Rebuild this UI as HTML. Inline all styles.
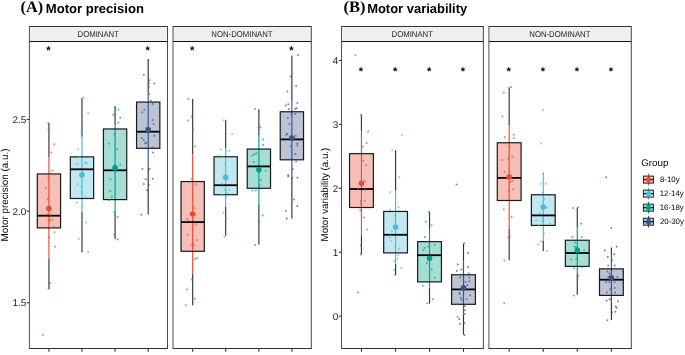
<!DOCTYPE html>
<html><head><meta charset="utf-8"><title>Motor precision and variability</title>
<style>html,body{margin:0;padding:0;background:#fff;} body{width:685px;height:355px;overflow:hidden;font-family:"Liberation Sans",sans-serif;} svg{display:block;will-change:transform;}</style>
</head><body>
<svg width="685" height="355" viewBox="0 0 685 355" text-rendering="geometricPrecision">
<rect x="0" y="0" width="685" height="355" fill="#fff"/>
<text transform="translate(20.57,12.40) scale(1.0144,1)" font-family="Liberation Serif, serif" font-weight="bold" font-size="16.00" fill="#000">(A)</text>
<text transform="translate(45.75,12.60) scale(0.9923,1)" font-family="Liberation Sans, sans-serif" font-weight="bold" font-size="13.20" fill="#000">Motor precision</text>
<text transform="translate(343.56,12.40) scale(1.0341,1)" font-family="Liberation Serif, serif" font-weight="bold" font-size="16.00" fill="#000">(B)</text>
<text transform="translate(367.16,12.60) scale(0.9824,1)" font-family="Liberation Sans, sans-serif" font-weight="bold" font-size="13.20" fill="#000">Motor variability</text>
<rect x="29.4" y="26.5" width="138.10" height="15.00" fill="#EFEFEF"/>
<rect x="29.4" y="41.5" width="138.10" height="307.00" fill="#fff"/>
<text transform="translate(77.56,36.60) scale(0.9118,1)" font-family="Liberation Sans, sans-serif" font-weight="normal" font-size="8.50" fill="#1A1A1A">DOMINANT</text>
<line x1="48.93" y1="348.5" x2="48.93" y2="351.8" stroke="#333" stroke-width="1.1"/>
<line x1="81.98" y1="348.5" x2="81.98" y2="351.8" stroke="#333" stroke-width="1.1"/>
<line x1="115.08" y1="348.5" x2="115.08" y2="351.8" stroke="#333" stroke-width="1.1"/>
<line x1="148.2" y1="348.5" x2="148.2" y2="351.8" stroke="#333" stroke-width="1.1"/>
<text x="48.48" y="53.96" text-anchor="middle" font-family="Liberation Sans, sans-serif" font-weight="bold" font-size="11.2" fill="#000">*</text>
<text x="147.75" y="53.96" text-anchor="middle" font-family="Liberation Sans, sans-serif" font-weight="bold" font-size="11.2" fill="#000">*</text>
<line x1="48.93" y1="122.9" x2="48.93" y2="157.4" stroke="#333" stroke-width="1.15"/>
<line x1="48.93" y1="258.7" x2="48.93" y2="288.9" stroke="#333" stroke-width="1.15"/>
<line x1="48.93" y1="157.4" x2="48.93" y2="258.7" stroke="#E64B35" stroke-width="1.15"/>
<rect x="37.28" y="173.95" width="23.30" height="53.95" fill="#E64B35" fill-opacity="0.35" stroke="#1A1A1A" stroke-width="1.2"/>
<line x1="37.28" y1="215.7" x2="60.58" y2="215.7" stroke="#000" stroke-width="1.8"/>
<circle cx="48.2" cy="122.9" r="1.0" fill="#E64B35" fill-opacity="0.7"/>
<circle cx="48.4" cy="129.8" r="1.0" fill="#E64B35" fill-opacity="0.7"/>
<circle cx="54.3" cy="144.2" r="1.0" fill="#E64B35" fill-opacity="0.7"/>
<circle cx="51.3" cy="152.5" r="1.0" fill="#E64B35" fill-opacity="0.7"/>
<circle cx="52.3" cy="170.8" r="1.0" fill="#E64B35" fill-opacity="0.7"/>
<circle cx="54.3" cy="174.2" r="1.0" fill="#E64B35" fill-opacity="0.7"/>
<circle cx="48.2" cy="178.1" r="1.0" fill="#E64B35" fill-opacity="0.7"/>
<circle cx="45.8" cy="188.3" r="1.0" fill="#E64B35" fill-opacity="0.7"/>
<circle cx="47.8" cy="199.3" r="1.0" fill="#E64B35" fill-opacity="0.7"/>
<circle cx="46.8" cy="214.5" r="1.0" fill="#E64B35" fill-opacity="0.7"/>
<circle cx="50.7" cy="215.1" r="1.0" fill="#E64B35" fill-opacity="0.7"/>
<circle cx="48.4" cy="219.4" r="1.0" fill="#E64B35" fill-opacity="0.7"/>
<circle cx="50.3" cy="220.4" r="1.0" fill="#E64B35" fill-opacity="0.7"/>
<circle cx="52.3" cy="219.4" r="1.0" fill="#E64B35" fill-opacity="0.7"/>
<circle cx="53.7" cy="226.7" r="1.0" fill="#E64B35" fill-opacity="0.7"/>
<circle cx="54.3" cy="232.3" r="1.0" fill="#E64B35" fill-opacity="0.7"/>
<circle cx="49.1" cy="237.2" r="1.0" fill="#E64B35" fill-opacity="0.7"/>
<circle cx="55.1" cy="246.7" r="1.0" fill="#E64B35" fill-opacity="0.7"/>
<circle cx="50.2" cy="283" r="1.0" fill="#E64B35" fill-opacity="0.7"/>
<circle cx="48.5" cy="288.7" r="1.0" fill="#E64B35" fill-opacity="0.7"/>
<circle cx="42.8" cy="335.1" r="1.0" fill="#E64B35" fill-opacity="0.7"/>
<circle cx="48.93" cy="208.6" r="2.8" fill="#E64B35"/>
<line x1="81.98" y1="97.9" x2="81.98" y2="136.5" stroke="#333" stroke-width="1.15"/>
<line x1="81.98" y1="211.8" x2="81.98" y2="252.3" stroke="#333" stroke-width="1.15"/>
<line x1="81.98" y1="136.5" x2="81.98" y2="211.8" stroke="#4DBBD5" stroke-width="1.15"/>
<rect x="70.33" y="156.85" width="23.30" height="41.65" fill="#4DBBD5" fill-opacity="0.35" stroke="#1A1A1A" stroke-width="1.2"/>
<line x1="70.33" y1="169.3" x2="93.63" y2="169.3" stroke="#000" stroke-width="1.8"/>
<circle cx="83.7" cy="97.5" r="1.0" fill="#4DBBD5" fill-opacity="0.7"/>
<circle cx="88.1" cy="112.7" r="1.0" fill="#4DBBD5" fill-opacity="0.7"/>
<circle cx="81.4" cy="131.8" r="1.0" fill="#4DBBD5" fill-opacity="0.7"/>
<circle cx="81.4" cy="136.4" r="1.0" fill="#4DBBD5" fill-opacity="0.7"/>
<circle cx="77.8" cy="149.2" r="1.0" fill="#4DBBD5" fill-opacity="0.7"/>
<circle cx="79.4" cy="157.1" r="1.0" fill="#4DBBD5" fill-opacity="0.7"/>
<circle cx="76.8" cy="163.9" r="1.0" fill="#4DBBD5" fill-opacity="0.7"/>
<circle cx="85.3" cy="162.5" r="1.0" fill="#4DBBD5" fill-opacity="0.7"/>
<circle cx="86.7" cy="163.3" r="1.0" fill="#4DBBD5" fill-opacity="0.7"/>
<circle cx="77.4" cy="184.2" r="1.0" fill="#4DBBD5" fill-opacity="0.7"/>
<circle cx="81.4" cy="186.2" r="1.0" fill="#4DBBD5" fill-opacity="0.7"/>
<circle cx="81.8" cy="192.1" r="1.0" fill="#4DBBD5" fill-opacity="0.7"/>
<circle cx="85.3" cy="197.4" r="1.0" fill="#4DBBD5" fill-opacity="0.7"/>
<circle cx="76.8" cy="202.7" r="1.0" fill="#4DBBD5" fill-opacity="0.7"/>
<circle cx="82.1" cy="206.7" r="1.0" fill="#4DBBD5" fill-opacity="0.7"/>
<circle cx="86.1" cy="222.5" r="1.0" fill="#4DBBD5" fill-opacity="0.7"/>
<circle cx="78.8" cy="239.1" r="1.0" fill="#4DBBD5" fill-opacity="0.7"/>
<circle cx="88.1" cy="252.1" r="1.0" fill="#4DBBD5" fill-opacity="0.7"/>
<circle cx="81.98" cy="174.7" r="2.8" fill="#4DBBD5"/>
<line x1="115.08" y1="106.4" x2="115.08" y2="125.1" stroke="#333" stroke-width="1.15"/>
<line x1="115.08" y1="212.3" x2="115.08" y2="239.2" stroke="#333" stroke-width="1.15"/>
<line x1="115.08" y1="125.1" x2="115.08" y2="212.3" stroke="#00A087" stroke-width="1.15"/>
<rect x="103.43" y="128.95" width="23.30" height="70.65" fill="#00A087" fill-opacity="0.35" stroke="#1A1A1A" stroke-width="1.2"/>
<line x1="103.43" y1="170.3" x2="126.73" y2="170.3" stroke="#000" stroke-width="1.8"/>
<circle cx="115.1" cy="106.9" r="1.0" fill="#00A087" fill-opacity="0.7"/>
<circle cx="118.3" cy="109.5" r="1.0" fill="#00A087" fill-opacity="0.7"/>
<circle cx="113.2" cy="114.8" r="1.0" fill="#00A087" fill-opacity="0.7"/>
<circle cx="120.3" cy="117.8" r="1.0" fill="#00A087" fill-opacity="0.7"/>
<circle cx="118.3" cy="122.7" r="1.0" fill="#00A087" fill-opacity="0.7"/>
<circle cx="114.4" cy="133.9" r="1.0" fill="#00A087" fill-opacity="0.7"/>
<circle cx="108.8" cy="143.8" r="1.0" fill="#00A087" fill-opacity="0.7"/>
<circle cx="117.1" cy="149.3" r="1.0" fill="#00A087" fill-opacity="0.7"/>
<circle cx="120.3" cy="164.7" r="1.0" fill="#00A087" fill-opacity="0.7"/>
<circle cx="110.4" cy="179.2" r="1.0" fill="#00A087" fill-opacity="0.7"/>
<circle cx="110.4" cy="191" r="1.0" fill="#00A087" fill-opacity="0.7"/>
<circle cx="111.8" cy="196.6" r="1.0" fill="#00A087" fill-opacity="0.7"/>
<circle cx="109.2" cy="200.1" r="1.0" fill="#00A087" fill-opacity="0.7"/>
<circle cx="114.4" cy="212" r="1.0" fill="#00A087" fill-opacity="0.7"/>
<circle cx="114.4" cy="234.4" r="1.0" fill="#00A087" fill-opacity="0.7"/>
<circle cx="117.7" cy="239.6" r="1.0" fill="#00A087" fill-opacity="0.7"/>
<circle cx="117.6" cy="217" r="1.0" fill="#00A087" fill-opacity="0.7"/>
<circle cx="115.08" cy="167.9" r="2.8" fill="#00A087"/>
<line x1="148.2" y1="59.5" x2="148.2" y2="92.5" stroke="#333" stroke-width="1.15"/>
<line x1="148.2" y1="167.2" x2="148.2" y2="214.4" stroke="#333" stroke-width="1.15"/>
<line x1="148.2" y1="92.5" x2="148.2" y2="167.2" stroke="#3C5488" stroke-width="1.15"/>
<rect x="136.55" y="102.05" width="23.30" height="46.25" fill="#3C5488" fill-opacity="0.35" stroke="#1A1A1A" stroke-width="1.2"/>
<line x1="136.55" y1="131.7" x2="159.85" y2="131.7" stroke="#000" stroke-width="1.8"/>
<circle cx="148.4" cy="59.9" r="1.0" fill="#3C5488" fill-opacity="0.7"/>
<circle cx="143.8" cy="74.7" r="1.0" fill="#3C5488" fill-opacity="0.7"/>
<circle cx="149.3" cy="80.2" r="1.0" fill="#3C5488" fill-opacity="0.7"/>
<circle cx="148.8" cy="83" r="1.0" fill="#3C5488" fill-opacity="0.7"/>
<circle cx="154.3" cy="83.6" r="1.0" fill="#3C5488" fill-opacity="0.7"/>
<circle cx="148.8" cy="87" r="1.0" fill="#3C5488" fill-opacity="0.7"/>
<circle cx="149.1" cy="94.1" r="1.0" fill="#3C5488" fill-opacity="0.7"/>
<circle cx="151.1" cy="100.8" r="1.0" fill="#3C5488" fill-opacity="0.7"/>
<circle cx="152.7" cy="103.9" r="1.0" fill="#3C5488" fill-opacity="0.7"/>
<circle cx="144.4" cy="109.8" r="1.0" fill="#3C5488" fill-opacity="0.7"/>
<circle cx="142.2" cy="112.2" r="1.0" fill="#3C5488" fill-opacity="0.7"/>
<circle cx="152.7" cy="120.1" r="1.0" fill="#3C5488" fill-opacity="0.7"/>
<circle cx="153.7" cy="124" r="1.0" fill="#3C5488" fill-opacity="0.7"/>
<circle cx="146.4" cy="127.9" r="1.0" fill="#3C5488" fill-opacity="0.7"/>
<circle cx="154.3" cy="135.8" r="1.0" fill="#3C5488" fill-opacity="0.7"/>
<circle cx="141.8" cy="138.1" r="1.0" fill="#3C5488" fill-opacity="0.7"/>
<circle cx="143.8" cy="140.1" r="1.0" fill="#3C5488" fill-opacity="0.7"/>
<circle cx="146.4" cy="142.7" r="1.0" fill="#3C5488" fill-opacity="0.7"/>
<circle cx="145.2" cy="143.3" r="1.0" fill="#3C5488" fill-opacity="0.7"/>
<circle cx="152.3" cy="147.6" r="1.0" fill="#3C5488" fill-opacity="0.7"/>
<circle cx="145.8" cy="148.6" r="1.0" fill="#3C5488" fill-opacity="0.7"/>
<circle cx="153.1" cy="152.5" r="1.0" fill="#3C5488" fill-opacity="0.7"/>
<circle cx="142.4" cy="168.9" r="1.0" fill="#3C5488" fill-opacity="0.7"/>
<circle cx="149.7" cy="168.9" r="1.0" fill="#3C5488" fill-opacity="0.7"/>
<circle cx="145.8" cy="179.2" r="1.0" fill="#3C5488" fill-opacity="0.7"/>
<circle cx="152.7" cy="178.8" r="1.0" fill="#3C5488" fill-opacity="0.7"/>
<circle cx="143.8" cy="184.1" r="1.0" fill="#3C5488" fill-opacity="0.7"/>
<circle cx="148.8" cy="184.7" r="1.0" fill="#3C5488" fill-opacity="0.7"/>
<circle cx="147.1" cy="190.3" r="1.0" fill="#3C5488" fill-opacity="0.7"/>
<circle cx="141.4" cy="214.8" r="1.0" fill="#3C5488" fill-opacity="0.7"/>
<circle cx="148.2" cy="129.7" r="2.8" fill="#3C5488"/>
<line x1="29.4" y1="26.5" x2="167.5" y2="26.5" stroke="#333" stroke-width="1"/>
<line x1="29.4" y1="41.5" x2="167.5" y2="41.5" stroke="#111" stroke-width="1.1"/>
<line x1="29.4" y1="348.5" x2="167.5" y2="348.5" stroke="#333" stroke-width="1"/>
<line x1="29.4" y1="26.0" x2="29.4" y2="349.0" stroke="#333" stroke-width="0.85"/>
<line x1="167.5" y1="26.0" x2="167.5" y2="349.0" stroke="#333" stroke-width="0.9"/>
<rect x="173.0" y="26.5" width="138.30" height="15.00" fill="#EFEFEF"/>
<rect x="173.0" y="41.5" width="138.30" height="307.00" fill="#fff"/>
<text transform="translate(211.36,36.60) scale(0.9118,1)" font-family="Liberation Sans, sans-serif" font-weight="normal" font-size="8.50" fill="#1A1A1A">NON-DOMINANT</text>
<line x1="192.68" y1="348.5" x2="192.68" y2="351.8" stroke="#333" stroke-width="1.1"/>
<line x1="225.68" y1="348.5" x2="225.68" y2="351.8" stroke="#333" stroke-width="1.1"/>
<line x1="258.88" y1="348.5" x2="258.88" y2="351.8" stroke="#333" stroke-width="1.1"/>
<line x1="291.88" y1="348.5" x2="291.88" y2="351.8" stroke="#333" stroke-width="1.1"/>
<text x="192.23" y="53.96" text-anchor="middle" font-family="Liberation Sans, sans-serif" font-weight="bold" font-size="11.2" fill="#000">*</text>
<text x="291.43" y="53.96" text-anchor="middle" font-family="Liberation Sans, sans-serif" font-weight="bold" font-size="11.2" fill="#000">*</text>
<line x1="192.68" y1="99.1" x2="192.68" y2="154.3" stroke="#333" stroke-width="1.15"/>
<line x1="192.68" y1="273.8" x2="192.68" y2="305.2" stroke="#333" stroke-width="1.15"/>
<line x1="192.68" y1="154.3" x2="192.68" y2="273.8" stroke="#E64B35" stroke-width="1.15"/>
<rect x="181.03" y="181.55" width="23.30" height="69.75" fill="#E64B35" fill-opacity="0.35" stroke="#1A1A1A" stroke-width="1.2"/>
<line x1="181.03" y1="222.1" x2="204.33" y2="222.1" stroke="#000" stroke-width="1.8"/>
<circle cx="188.4" cy="98.9" r="1.0" fill="#E64B35" fill-opacity="0.7"/>
<circle cx="191.8" cy="116.6" r="1.0" fill="#E64B35" fill-opacity="0.7"/>
<circle cx="187.8" cy="120.6" r="1.0" fill="#E64B35" fill-opacity="0.7"/>
<circle cx="193.1" cy="129.8" r="1.0" fill="#E64B35" fill-opacity="0.7"/>
<circle cx="195.1" cy="146.2" r="1.0" fill="#E64B35" fill-opacity="0.7"/>
<circle cx="191.8" cy="179.1" r="1.0" fill="#E64B35" fill-opacity="0.7"/>
<circle cx="196.3" cy="184.2" r="1.0" fill="#E64B35" fill-opacity="0.7"/>
<circle cx="192.8" cy="199.4" r="1.0" fill="#E64B35" fill-opacity="0.7"/>
<circle cx="194.3" cy="207.9" r="1.0" fill="#E64B35" fill-opacity="0.7"/>
<circle cx="187.2" cy="218.5" r="1.0" fill="#E64B35" fill-opacity="0.7"/>
<circle cx="185.8" cy="221.1" r="1.0" fill="#E64B35" fill-opacity="0.7"/>
<circle cx="188.4" cy="220.8" r="1.0" fill="#E64B35" fill-opacity="0.7"/>
<circle cx="196.3" cy="224.3" r="1.0" fill="#E64B35" fill-opacity="0.7"/>
<circle cx="187.8" cy="234.8" r="1.0" fill="#E64B35" fill-opacity="0.7"/>
<circle cx="197.1" cy="240.1" r="1.0" fill="#E64B35" fill-opacity="0.7"/>
<circle cx="191.8" cy="244.7" r="1.0" fill="#E64B35" fill-opacity="0.7"/>
<circle cx="193.7" cy="245.2" r="1.0" fill="#E64B35" fill-opacity="0.7"/>
<circle cx="195.1" cy="259.1" r="1.0" fill="#E64B35" fill-opacity="0.7"/>
<circle cx="197.1" cy="257.9" r="1.0" fill="#E64B35" fill-opacity="0.7"/>
<circle cx="191.8" cy="279.6" r="1.0" fill="#E64B35" fill-opacity="0.7"/>
<circle cx="187.2" cy="289.6" r="1.0" fill="#E64B35" fill-opacity="0.7"/>
<circle cx="194.7" cy="298.7" r="1.0" fill="#E64B35" fill-opacity="0.7"/>
<circle cx="185.8" cy="305.2" r="1.0" fill="#E64B35" fill-opacity="0.7"/>
<circle cx="192.68" cy="214.0" r="2.8" fill="#E64B35"/>
<line x1="225.68" y1="120.3" x2="225.68" y2="148.4" stroke="#333" stroke-width="1.15"/>
<line x1="225.68" y1="206.4" x2="225.68" y2="235.8" stroke="#333" stroke-width="1.15"/>
<line x1="225.68" y1="148.4" x2="225.68" y2="206.4" stroke="#4DBBD5" stroke-width="1.15"/>
<rect x="214.03" y="156.75" width="23.30" height="37.95" fill="#4DBBD5" fill-opacity="0.35" stroke="#1A1A1A" stroke-width="1.2"/>
<line x1="214.03" y1="185.2" x2="237.33" y2="185.2" stroke="#000" stroke-width="1.8"/>
<circle cx="223.8" cy="120.3" r="1.0" fill="#4DBBD5" fill-opacity="0.7"/>
<circle cx="232.1" cy="134.1" r="1.0" fill="#4DBBD5" fill-opacity="0.7"/>
<circle cx="220.8" cy="149.4" r="1.0" fill="#4DBBD5" fill-opacity="0.7"/>
<circle cx="226.1" cy="150.4" r="1.0" fill="#4DBBD5" fill-opacity="0.7"/>
<circle cx="229.3" cy="151" r="1.0" fill="#4DBBD5" fill-opacity="0.7"/>
<circle cx="218.8" cy="155.8" r="1.0" fill="#4DBBD5" fill-opacity="0.7"/>
<circle cx="222.2" cy="157.3" r="1.0" fill="#4DBBD5" fill-opacity="0.7"/>
<circle cx="224.8" cy="164.8" r="1.0" fill="#4DBBD5" fill-opacity="0.7"/>
<circle cx="222.2" cy="183.8" r="1.0" fill="#4DBBD5" fill-opacity="0.7"/>
<circle cx="225.4" cy="189.7" r="1.0" fill="#4DBBD5" fill-opacity="0.7"/>
<circle cx="229.3" cy="189.7" r="1.0" fill="#4DBBD5" fill-opacity="0.7"/>
<circle cx="227.3" cy="193.3" r="1.0" fill="#4DBBD5" fill-opacity="0.7"/>
<circle cx="221.8" cy="194.7" r="1.0" fill="#4DBBD5" fill-opacity="0.7"/>
<circle cx="226.1" cy="196.6" r="1.0" fill="#4DBBD5" fill-opacity="0.7"/>
<circle cx="223.4" cy="212.4" r="1.0" fill="#4DBBD5" fill-opacity="0.7"/>
<circle cx="226.1" cy="218.3" r="1.0" fill="#4DBBD5" fill-opacity="0.7"/>
<circle cx="224.2" cy="236.7" r="1.0" fill="#4DBBD5" fill-opacity="0.7"/>
<circle cx="225.68" cy="177.4" r="2.8" fill="#4DBBD5"/>
<line x1="258.88" y1="109.3" x2="258.88" y2="135.1" stroke="#333" stroke-width="1.15"/>
<line x1="258.88" y1="204.2" x2="258.88" y2="244.4" stroke="#333" stroke-width="1.15"/>
<line x1="258.88" y1="135.1" x2="258.88" y2="204.2" stroke="#00A087" stroke-width="1.15"/>
<rect x="247.23" y="149.05" width="23.30" height="39.25" fill="#00A087" fill-opacity="0.35" stroke="#1A1A1A" stroke-width="1.2"/>
<line x1="247.23" y1="166.4" x2="270.53" y2="166.4" stroke="#000" stroke-width="1.8"/>
<circle cx="255.2" cy="108.9" r="1.0" fill="#00A087" fill-opacity="0.7"/>
<circle cx="258.4" cy="127.2" r="1.0" fill="#00A087" fill-opacity="0.7"/>
<circle cx="260.3" cy="127.2" r="1.0" fill="#00A087" fill-opacity="0.7"/>
<circle cx="263.1" cy="139.4" r="1.0" fill="#00A087" fill-opacity="0.7"/>
<circle cx="263.1" cy="145" r="1.0" fill="#00A087" fill-opacity="0.7"/>
<circle cx="252.4" cy="155.6" r="1.0" fill="#00A087" fill-opacity="0.7"/>
<circle cx="254.4" cy="154.2" r="1.0" fill="#00A087" fill-opacity="0.7"/>
<circle cx="256.4" cy="153.3" r="1.0" fill="#00A087" fill-opacity="0.7"/>
<circle cx="253.8" cy="162.1" r="1.0" fill="#00A087" fill-opacity="0.7"/>
<circle cx="265.7" cy="170.8" r="1.0" fill="#00A087" fill-opacity="0.7"/>
<circle cx="260.7" cy="179.7" r="1.0" fill="#00A087" fill-opacity="0.7"/>
<circle cx="259.7" cy="185.6" r="1.0" fill="#00A087" fill-opacity="0.7"/>
<circle cx="252.4" cy="190.6" r="1.0" fill="#00A087" fill-opacity="0.7"/>
<circle cx="255.8" cy="190.6" r="1.0" fill="#00A087" fill-opacity="0.7"/>
<circle cx="262.7" cy="215.6" r="1.0" fill="#00A087" fill-opacity="0.7"/>
<circle cx="259.1" cy="221.5" r="1.0" fill="#00A087" fill-opacity="0.7"/>
<circle cx="255.2" cy="245" r="1.0" fill="#00A087" fill-opacity="0.7"/>
<circle cx="258.88" cy="169.7" r="2.8" fill="#00A087"/>
<line x1="291.88" y1="55.4" x2="291.88" y2="100.0" stroke="#333" stroke-width="1.15"/>
<line x1="291.88" y1="176.8" x2="291.88" y2="218.6" stroke="#333" stroke-width="1.15"/>
<line x1="291.88" y1="100.0" x2="291.88" y2="176.8" stroke="#3C5488" stroke-width="1.15"/>
<rect x="280.23" y="111.75" width="23.30" height="48.05" fill="#3C5488" fill-opacity="0.35" stroke="#1A1A1A" stroke-width="1.2"/>
<line x1="280.23" y1="139.4" x2="303.53" y2="139.4" stroke="#000" stroke-width="1.8"/>
<circle cx="298.1" cy="54.9" r="1.0" fill="#3C5488" fill-opacity="0.7"/>
<circle cx="290.8" cy="76.6" r="1.0" fill="#3C5488" fill-opacity="0.7"/>
<circle cx="296.1" cy="85.9" r="1.0" fill="#3C5488" fill-opacity="0.7"/>
<circle cx="287.4" cy="91.4" r="1.0" fill="#3C5488" fill-opacity="0.7"/>
<circle cx="297.3" cy="102.9" r="1.0" fill="#3C5488" fill-opacity="0.7"/>
<circle cx="285.8" cy="105.6" r="1.0" fill="#3C5488" fill-opacity="0.7"/>
<circle cx="288.2" cy="104.2" r="1.0" fill="#3C5488" fill-opacity="0.7"/>
<circle cx="288.8" cy="109.2" r="1.0" fill="#3C5488" fill-opacity="0.7"/>
<circle cx="295.3" cy="108.8" r="1.0" fill="#3C5488" fill-opacity="0.7"/>
<circle cx="296.7" cy="108.2" r="1.0" fill="#3C5488" fill-opacity="0.7"/>
<circle cx="291.4" cy="114.1" r="1.0" fill="#3C5488" fill-opacity="0.7"/>
<circle cx="295.3" cy="114.1" r="1.0" fill="#3C5488" fill-opacity="0.7"/>
<circle cx="287.8" cy="118" r="1.0" fill="#3C5488" fill-opacity="0.7"/>
<circle cx="289.4" cy="123.9" r="1.0" fill="#3C5488" fill-opacity="0.7"/>
<circle cx="287.4" cy="133.7" r="1.0" fill="#3C5488" fill-opacity="0.7"/>
<circle cx="286.2" cy="134.7" r="1.0" fill="#3C5488" fill-opacity="0.7"/>
<circle cx="295.7" cy="135.7" r="1.0" fill="#3C5488" fill-opacity="0.7"/>
<circle cx="290.8" cy="146.2" r="1.0" fill="#3C5488" fill-opacity="0.7"/>
<circle cx="297.3" cy="143.6" r="1.0" fill="#3C5488" fill-opacity="0.7"/>
<circle cx="297.3" cy="145.6" r="1.0" fill="#3C5488" fill-opacity="0.7"/>
<circle cx="295.3" cy="154.1" r="1.0" fill="#3C5488" fill-opacity="0.7"/>
<circle cx="291.8" cy="158.8" r="1.0" fill="#3C5488" fill-opacity="0.7"/>
<circle cx="296.1" cy="161.4" r="1.0" fill="#3C5488" fill-opacity="0.7"/>
<circle cx="292.7" cy="169.2" r="1.0" fill="#3C5488" fill-opacity="0.7"/>
<circle cx="288.2" cy="175.2" r="1.0" fill="#3C5488" fill-opacity="0.7"/>
<circle cx="288.2" cy="176.5" r="1.0" fill="#3C5488" fill-opacity="0.7"/>
<circle cx="292.1" cy="177.7" r="1.0" fill="#3C5488" fill-opacity="0.7"/>
<circle cx="297.3" cy="177.7" r="1.0" fill="#3C5488" fill-opacity="0.7"/>
<circle cx="294.1" cy="199.4" r="1.0" fill="#3C5488" fill-opacity="0.7"/>
<circle cx="297.2" cy="206" r="1.0" fill="#3C5488" fill-opacity="0.7"/>
<circle cx="285.8" cy="210.9" r="1.0" fill="#3C5488" fill-opacity="0.7"/>
<circle cx="286.8" cy="218.6" r="1.0" fill="#3C5488" fill-opacity="0.7"/>
<circle cx="291.88" cy="138.1" r="2.8" fill="#3C5488"/>
<line x1="173.0" y1="26.5" x2="311.3" y2="26.5" stroke="#333" stroke-width="1"/>
<line x1="173.0" y1="41.5" x2="311.3" y2="41.5" stroke="#111" stroke-width="1.1"/>
<line x1="173.0" y1="348.5" x2="311.3" y2="348.5" stroke="#333" stroke-width="1"/>
<line x1="173.0" y1="26.0" x2="173.0" y2="349.0" stroke="#333" stroke-width="0.85"/>
<line x1="311.3" y1="26.0" x2="311.3" y2="349.0" stroke="#333" stroke-width="0.9"/>
<rect x="341.5" y="26.5" width="141.90" height="15.00" fill="#EFEFEF"/>
<rect x="341.5" y="41.5" width="141.90" height="307.00" fill="#fff"/>
<text transform="translate(391.56,36.60) scale(0.9118,1)" font-family="Liberation Sans, sans-serif" font-weight="normal" font-size="8.50" fill="#1A1A1A">DOMINANT</text>
<line x1="361.45" y1="348.5" x2="361.45" y2="351.8" stroke="#333" stroke-width="1.1"/>
<line x1="395.58" y1="348.5" x2="395.58" y2="351.8" stroke="#333" stroke-width="1.1"/>
<line x1="429.53" y1="348.5" x2="429.53" y2="351.8" stroke="#333" stroke-width="1.1"/>
<line x1="463.5" y1="348.5" x2="463.5" y2="351.8" stroke="#333" stroke-width="1.1"/>
<text x="361.00" y="74.76" text-anchor="middle" font-family="Liberation Sans, sans-serif" font-weight="bold" font-size="11.2" fill="#000">*</text>
<text x="395.13" y="74.76" text-anchor="middle" font-family="Liberation Sans, sans-serif" font-weight="bold" font-size="11.2" fill="#000">*</text>
<text x="429.08" y="74.76" text-anchor="middle" font-family="Liberation Sans, sans-serif" font-weight="bold" font-size="11.2" fill="#000">*</text>
<text x="463.05" y="74.76" text-anchor="middle" font-family="Liberation Sans, sans-serif" font-weight="bold" font-size="11.2" fill="#000">*</text>
<line x1="361.45" y1="114.8" x2="361.45" y2="131.4" stroke="#333" stroke-width="1.15"/>
<line x1="361.45" y1="235.4" x2="361.45" y2="254.4" stroke="#333" stroke-width="1.15"/>
<line x1="361.45" y1="131.4" x2="361.45" y2="235.4" stroke="#E64B35" stroke-width="1.15"/>
<rect x="349.55" y="153.65" width="23.80" height="53.85" fill="#E64B35" fill-opacity="0.35" stroke="#1A1A1A" stroke-width="1.2"/>
<line x1="349.55" y1="189.0" x2="373.35" y2="189.0" stroke="#000" stroke-width="1.8"/>
<circle cx="355.4" cy="55.2" r="1.0" fill="#E64B35" fill-opacity="0.7"/>
<circle cx="360.8" cy="114.8" r="1.0" fill="#E64B35" fill-opacity="0.7"/>
<circle cx="368.1" cy="131.6" r="1.0" fill="#E64B35" fill-opacity="0.7"/>
<circle cx="366.7" cy="143" r="1.0" fill="#E64B35" fill-opacity="0.7"/>
<circle cx="362.7" cy="146.4" r="1.0" fill="#E64B35" fill-opacity="0.7"/>
<circle cx="363.3" cy="160.7" r="1.0" fill="#E64B35" fill-opacity="0.7"/>
<circle cx="366.1" cy="165.3" r="1.0" fill="#E64B35" fill-opacity="0.7"/>
<circle cx="364.7" cy="181.3" r="1.0" fill="#E64B35" fill-opacity="0.7"/>
<circle cx="358.2" cy="188.6" r="1.0" fill="#E64B35" fill-opacity="0.7"/>
<circle cx="365.3" cy="190" r="1.0" fill="#E64B35" fill-opacity="0.7"/>
<circle cx="360.8" cy="201" r="1.0" fill="#E64B35" fill-opacity="0.7"/>
<circle cx="364.7" cy="201" r="1.0" fill="#E64B35" fill-opacity="0.7"/>
<circle cx="360.8" cy="203.8" r="1.0" fill="#E64B35" fill-opacity="0.7"/>
<circle cx="360.2" cy="210.3" r="1.0" fill="#E64B35" fill-opacity="0.7"/>
<circle cx="364.1" cy="217.6" r="1.0" fill="#E64B35" fill-opacity="0.7"/>
<circle cx="367.3" cy="229.5" r="1.0" fill="#E64B35" fill-opacity="0.7"/>
<circle cx="360.8" cy="245.6" r="1.0" fill="#E64B35" fill-opacity="0.7"/>
<circle cx="360.8" cy="254.5" r="1.0" fill="#E64B35" fill-opacity="0.7"/>
<circle cx="358" cy="292.5" r="1.0" fill="#E64B35" fill-opacity="0.7"/>
<circle cx="361.45" cy="183.3" r="2.8" fill="#E64B35"/>
<line x1="395.58" y1="150.3" x2="395.58" y2="190.8" stroke="#333" stroke-width="1.15"/>
<line x1="395.58" y1="263.7" x2="395.58" y2="275.1" stroke="#333" stroke-width="1.15"/>
<line x1="395.58" y1="190.8" x2="395.58" y2="263.7" stroke="#4DBBD5" stroke-width="1.15"/>
<rect x="383.68" y="211.45" width="23.80" height="41.45" fill="#4DBBD5" fill-opacity="0.35" stroke="#1A1A1A" stroke-width="1.2"/>
<line x1="383.68" y1="234.8" x2="407.48" y2="234.8" stroke="#000" stroke-width="1.8"/>
<circle cx="402.1" cy="134.9" r="1.0" fill="#4DBBD5" fill-opacity="0.7"/>
<circle cx="392.2" cy="150.3" r="1.0" fill="#4DBBD5" fill-opacity="0.7"/>
<circle cx="399.3" cy="176.9" r="1.0" fill="#4DBBD5" fill-opacity="0.7"/>
<circle cx="390.2" cy="192.1" r="1.0" fill="#4DBBD5" fill-opacity="0.7"/>
<circle cx="398.7" cy="207.2" r="1.0" fill="#4DBBD5" fill-opacity="0.7"/>
<circle cx="390.2" cy="209.8" r="1.0" fill="#4DBBD5" fill-opacity="0.7"/>
<circle cx="394.8" cy="215.7" r="1.0" fill="#4DBBD5" fill-opacity="0.7"/>
<circle cx="391.8" cy="231.5" r="1.0" fill="#4DBBD5" fill-opacity="0.7"/>
<circle cx="390.2" cy="235.4" r="1.0" fill="#4DBBD5" fill-opacity="0.7"/>
<circle cx="389.8" cy="237.4" r="1.0" fill="#4DBBD5" fill-opacity="0.7"/>
<circle cx="391.4" cy="240.8" r="1.0" fill="#4DBBD5" fill-opacity="0.7"/>
<circle cx="395.4" cy="246.7" r="1.0" fill="#4DBBD5" fill-opacity="0.7"/>
<circle cx="399.3" cy="248.6" r="1.0" fill="#4DBBD5" fill-opacity="0.7"/>
<circle cx="398.4" cy="255.6" r="1.0" fill="#4DBBD5" fill-opacity="0.7"/>
<circle cx="397.3" cy="258.7" r="1.0" fill="#4DBBD5" fill-opacity="0.7"/>
<circle cx="394.2" cy="261" r="1.0" fill="#4DBBD5" fill-opacity="0.7"/>
<circle cx="401.3" cy="268.1" r="1.0" fill="#4DBBD5" fill-opacity="0.7"/>
<circle cx="394.2" cy="270.1" r="1.0" fill="#4DBBD5" fill-opacity="0.7"/>
<circle cx="394.8" cy="275.2" r="1.0" fill="#4DBBD5" fill-opacity="0.7"/>
<circle cx="395.58" cy="227.1" r="2.8" fill="#4DBBD5"/>
<line x1="429.53" y1="211.7" x2="429.53" y2="228.9" stroke="#333" stroke-width="1.15"/>
<line x1="429.53" y1="287.6" x2="429.53" y2="303.6" stroke="#333" stroke-width="1.15"/>
<line x1="429.53" y1="228.9" x2="429.53" y2="287.6" stroke="#00A087" stroke-width="1.15"/>
<rect x="417.63" y="241.65" width="23.80" height="40.25" fill="#00A087" fill-opacity="0.35" stroke="#1A1A1A" stroke-width="1.2"/>
<line x1="417.63" y1="255.2" x2="441.43" y2="255.2" stroke="#000" stroke-width="1.8"/>
<circle cx="428.8" cy="211.8" r="1.0" fill="#00A087" fill-opacity="0.7"/>
<circle cx="425.8" cy="221.7" r="1.0" fill="#00A087" fill-opacity="0.7"/>
<circle cx="431.7" cy="225.2" r="1.0" fill="#00A087" fill-opacity="0.7"/>
<circle cx="424.8" cy="237.1" r="1.0" fill="#00A087" fill-opacity="0.7"/>
<circle cx="434.7" cy="245" r="1.0" fill="#00A087" fill-opacity="0.7"/>
<circle cx="424.8" cy="247.8" r="1.0" fill="#00A087" fill-opacity="0.7"/>
<circle cx="423.4" cy="250.1" r="1.0" fill="#00A087" fill-opacity="0.7"/>
<circle cx="428.2" cy="246.4" r="1.0" fill="#00A087" fill-opacity="0.7"/>
<circle cx="426.8" cy="263.1" r="1.0" fill="#00A087" fill-opacity="0.7"/>
<circle cx="431.7" cy="269.5" r="1.0" fill="#00A087" fill-opacity="0.7"/>
<circle cx="434.7" cy="277.8" r="1.0" fill="#00A087" fill-opacity="0.7"/>
<circle cx="422.8" cy="285.7" r="1.0" fill="#00A087" fill-opacity="0.7"/>
<circle cx="429.4" cy="292.7" r="1.0" fill="#00A087" fill-opacity="0.7"/>
<circle cx="432.9" cy="299.3" r="1.0" fill="#00A087" fill-opacity="0.7"/>
<circle cx="427.4" cy="303.3" r="1.0" fill="#00A087" fill-opacity="0.7"/>
<circle cx="429.53" cy="258.3" r="2.8" fill="#00A087"/>
<line x1="463.5" y1="243.8" x2="463.5" y2="261.4" stroke="#333" stroke-width="1.15"/>
<line x1="463.5" y1="314.5" x2="463.5" y2="334.6" stroke="#333" stroke-width="1.15"/>
<line x1="463.5" y1="261.4" x2="463.5" y2="314.5" stroke="#3C5488" stroke-width="1.15"/>
<rect x="451.60" y="274.75" width="23.80" height="29.55" fill="#3C5488" fill-opacity="0.35" stroke="#1A1A1A" stroke-width="1.2"/>
<line x1="451.60" y1="289.4" x2="475.40" y2="289.4" stroke="#000" stroke-width="1.8"/>
<circle cx="464.1" cy="243.3" r="1.0" fill="#3C5488" fill-opacity="0.7"/>
<circle cx="468.1" cy="253.1" r="1.0" fill="#3C5488" fill-opacity="0.7"/>
<circle cx="457.8" cy="264.6" r="1.0" fill="#3C5488" fill-opacity="0.7"/>
<circle cx="468.1" cy="267" r="1.0" fill="#3C5488" fill-opacity="0.7"/>
<circle cx="461.4" cy="269.5" r="1.0" fill="#3C5488" fill-opacity="0.7"/>
<circle cx="456.8" cy="270.9" r="1.0" fill="#3C5488" fill-opacity="0.7"/>
<circle cx="468.7" cy="273.5" r="1.0" fill="#3C5488" fill-opacity="0.7"/>
<circle cx="460.2" cy="277.4" r="1.0" fill="#3C5488" fill-opacity="0.7"/>
<circle cx="469.3" cy="277.4" r="1.0" fill="#3C5488" fill-opacity="0.7"/>
<circle cx="465.7" cy="281.9" r="1.0" fill="#3C5488" fill-opacity="0.7"/>
<circle cx="469.3" cy="281.4" r="1.0" fill="#3C5488" fill-opacity="0.7"/>
<circle cx="467.3" cy="285.3" r="1.0" fill="#3C5488" fill-opacity="0.7"/>
<circle cx="459.3" cy="293" r="1.0" fill="#3C5488" fill-opacity="0.7"/>
<circle cx="460" cy="293.9" r="1.0" fill="#3C5488" fill-opacity="0.7"/>
<circle cx="470.1" cy="295.3" r="1.0" fill="#3C5488" fill-opacity="0.7"/>
<circle cx="460.8" cy="298" r="1.0" fill="#3C5488" fill-opacity="0.7"/>
<circle cx="461.6" cy="300" r="1.0" fill="#3C5488" fill-opacity="0.7"/>
<circle cx="466.6" cy="299.2" r="1.0" fill="#3C5488" fill-opacity="0.7"/>
<circle cx="457.2" cy="304.3" r="1.0" fill="#3C5488" fill-opacity="0.7"/>
<circle cx="464.9" cy="306.3" r="1.0" fill="#3C5488" fill-opacity="0.7"/>
<circle cx="464.9" cy="310.2" r="1.0" fill="#3C5488" fill-opacity="0.7"/>
<circle cx="464.6" cy="314" r="1.0" fill="#3C5488" fill-opacity="0.7"/>
<circle cx="457.6" cy="316.7" r="1.0" fill="#3C5488" fill-opacity="0.7"/>
<circle cx="459.2" cy="319.1" r="1.0" fill="#3C5488" fill-opacity="0.7"/>
<circle cx="460" cy="323.8" r="1.0" fill="#3C5488" fill-opacity="0.7"/>
<circle cx="464.3" cy="322.9" r="1.0" fill="#3C5488" fill-opacity="0.7"/>
<circle cx="464.6" cy="335" r="1.0" fill="#3C5488" fill-opacity="0.7"/>
<circle cx="456.6" cy="184.5" r="1.0" fill="#3C5488" fill-opacity="0.7"/>
<circle cx="463.5" cy="287.9" r="2.8" fill="#3C5488"/>
<line x1="341.5" y1="26.5" x2="483.4" y2="26.5" stroke="#333" stroke-width="1"/>
<line x1="341.5" y1="41.5" x2="483.4" y2="41.5" stroke="#111" stroke-width="1.1"/>
<line x1="341.5" y1="348.5" x2="483.4" y2="348.5" stroke="#333" stroke-width="1"/>
<line x1="341.5" y1="26.0" x2="341.5" y2="349.0" stroke="#333" stroke-width="0.85"/>
<line x1="483.4" y1="26.0" x2="483.4" y2="349.0" stroke="#333" stroke-width="0.9"/>
<rect x="488.9" y="26.5" width="142.40" height="15.00" fill="#EFEFEF"/>
<rect x="488.9" y="41.5" width="142.40" height="307.00" fill="#fff"/>
<text transform="translate(529.31,36.60) scale(0.9118,1)" font-family="Liberation Sans, sans-serif" font-weight="normal" font-size="8.50" fill="#1A1A1A">NON-DOMINANT</text>
<line x1="509.18" y1="348.5" x2="509.18" y2="351.8" stroke="#333" stroke-width="1.1"/>
<line x1="543.28" y1="348.5" x2="543.28" y2="351.8" stroke="#333" stroke-width="1.1"/>
<line x1="577.28" y1="348.5" x2="577.28" y2="351.8" stroke="#333" stroke-width="1.1"/>
<line x1="611.4" y1="348.5" x2="611.4" y2="351.8" stroke="#333" stroke-width="1.1"/>
<text x="508.73" y="74.76" text-anchor="middle" font-family="Liberation Sans, sans-serif" font-weight="bold" font-size="11.2" fill="#000">*</text>
<text x="542.83" y="74.76" text-anchor="middle" font-family="Liberation Sans, sans-serif" font-weight="bold" font-size="11.2" fill="#000">*</text>
<text x="576.83" y="74.76" text-anchor="middle" font-family="Liberation Sans, sans-serif" font-weight="bold" font-size="11.2" fill="#000">*</text>
<text x="610.95" y="74.76" text-anchor="middle" font-family="Liberation Sans, sans-serif" font-weight="bold" font-size="11.2" fill="#000">*</text>
<line x1="509.18" y1="87.2" x2="509.18" y2="125.0" stroke="#333" stroke-width="1.15"/>
<line x1="509.18" y1="228.9" x2="509.18" y2="260.3" stroke="#333" stroke-width="1.15"/>
<line x1="509.18" y1="125.0" x2="509.18" y2="228.9" stroke="#E64B35" stroke-width="1.15"/>
<rect x="497.28" y="142.75" width="23.80" height="57.75" fill="#E64B35" fill-opacity="0.35" stroke="#1A1A1A" stroke-width="1.2"/>
<line x1="497.28" y1="177.9" x2="521.08" y2="177.9" stroke="#000" stroke-width="1.8"/>
<circle cx="511.1" cy="86.9" r="1.0" fill="#E64B35" fill-opacity="0.7"/>
<circle cx="503.8" cy="92.8" r="1.0" fill="#E64B35" fill-opacity="0.7"/>
<circle cx="502.4" cy="116.5" r="1.0" fill="#E64B35" fill-opacity="0.7"/>
<circle cx="504.8" cy="137.2" r="1.0" fill="#E64B35" fill-opacity="0.7"/>
<circle cx="513.7" cy="134.8" r="1.0" fill="#E64B35" fill-opacity="0.7"/>
<circle cx="513.7" cy="138.2" r="1.0" fill="#E64B35" fill-opacity="0.7"/>
<circle cx="509.7" cy="146.7" r="1.0" fill="#E64B35" fill-opacity="0.7"/>
<circle cx="512.3" cy="156.8" r="1.0" fill="#E64B35" fill-opacity="0.7"/>
<circle cx="508.4" cy="158.7" r="1.0" fill="#E64B35" fill-opacity="0.7"/>
<circle cx="502.4" cy="160.1" r="1.0" fill="#E64B35" fill-opacity="0.7"/>
<circle cx="504.4" cy="172" r="1.0" fill="#E64B35" fill-opacity="0.7"/>
<circle cx="510.3" cy="181.8" r="1.0" fill="#E64B35" fill-opacity="0.7"/>
<circle cx="512.3" cy="181" r="1.0" fill="#E64B35" fill-opacity="0.7"/>
<circle cx="513.1" cy="189.3" r="1.0" fill="#E64B35" fill-opacity="0.7"/>
<circle cx="508.8" cy="190.9" r="1.0" fill="#E64B35" fill-opacity="0.7"/>
<circle cx="503.8" cy="209.6" r="1.0" fill="#E64B35" fill-opacity="0.7"/>
<circle cx="511.7" cy="217.1" r="1.0" fill="#E64B35" fill-opacity="0.7"/>
<circle cx="508.4" cy="237.4" r="1.0" fill="#E64B35" fill-opacity="0.7"/>
<circle cx="509.7" cy="236.4" r="1.0" fill="#E64B35" fill-opacity="0.7"/>
<circle cx="504.4" cy="260.5" r="1.0" fill="#E64B35" fill-opacity="0.7"/>
<circle cx="504.2" cy="303.3" r="1.0" fill="#E64B35" fill-opacity="0.7"/>
<circle cx="509.18" cy="176.9" r="2.8" fill="#E64B35"/>
<line x1="543.28" y1="173.1" x2="543.28" y2="173.4" stroke="#333" stroke-width="1.15"/>
<line x1="543.28" y1="240.4" x2="543.28" y2="250.9" stroke="#333" stroke-width="1.15"/>
<line x1="543.28" y1="173.4" x2="543.28" y2="240.4" stroke="#4DBBD5" stroke-width="1.15"/>
<rect x="531.38" y="194.75" width="23.80" height="30.65" fill="#4DBBD5" fill-opacity="0.35" stroke="#1A1A1A" stroke-width="1.2"/>
<line x1="531.38" y1="215.4" x2="555.18" y2="215.4" stroke="#000" stroke-width="1.8"/>
<circle cx="543.1" cy="109.9" r="1.0" fill="#4DBBD5" fill-opacity="0.7"/>
<circle cx="541.2" cy="143.4" r="1.0" fill="#4DBBD5" fill-opacity="0.7"/>
<circle cx="543.1" cy="173.3" r="1.0" fill="#4DBBD5" fill-opacity="0.7"/>
<circle cx="540.8" cy="183.7" r="1.0" fill="#4DBBD5" fill-opacity="0.7"/>
<circle cx="545.7" cy="183.7" r="1.0" fill="#4DBBD5" fill-opacity="0.7"/>
<circle cx="542.4" cy="192.6" r="1.0" fill="#4DBBD5" fill-opacity="0.7"/>
<circle cx="544.3" cy="198.9" r="1.0" fill="#4DBBD5" fill-opacity="0.7"/>
<circle cx="547.1" cy="207.4" r="1.0" fill="#4DBBD5" fill-opacity="0.7"/>
<circle cx="539.8" cy="212.7" r="1.0" fill="#4DBBD5" fill-opacity="0.7"/>
<circle cx="542.4" cy="218.4" r="1.0" fill="#4DBBD5" fill-opacity="0.7"/>
<circle cx="536.1" cy="220.5" r="1.0" fill="#4DBBD5" fill-opacity="0.7"/>
<circle cx="542.4" cy="221.2" r="1.0" fill="#4DBBD5" fill-opacity="0.7"/>
<circle cx="550" cy="223.8" r="1.0" fill="#4DBBD5" fill-opacity="0.7"/>
<circle cx="539.2" cy="225.7" r="1.0" fill="#4DBBD5" fill-opacity="0.7"/>
<circle cx="543.4" cy="228.6" r="1.0" fill="#4DBBD5" fill-opacity="0.7"/>
<circle cx="544" cy="233.6" r="1.0" fill="#4DBBD5" fill-opacity="0.7"/>
<circle cx="541.2" cy="241.6" r="1.0" fill="#4DBBD5" fill-opacity="0.7"/>
<circle cx="538.4" cy="244.6" r="1.0" fill="#4DBBD5" fill-opacity="0.7"/>
<circle cx="547.1" cy="250.9" r="1.0" fill="#4DBBD5" fill-opacity="0.7"/>
<circle cx="543.28" cy="207.0" r="2.8" fill="#4DBBD5"/>
<line x1="577.28" y1="207.4" x2="577.28" y2="227.5" stroke="#333" stroke-width="1.15"/>
<line x1="577.28" y1="273.5" x2="577.28" y2="294.8" stroke="#333" stroke-width="1.15"/>
<line x1="577.28" y1="227.5" x2="577.28" y2="273.5" stroke="#00A087" stroke-width="1.15"/>
<rect x="565.38" y="240.25" width="23.80" height="26.15" fill="#00A087" fill-opacity="0.35" stroke="#1A1A1A" stroke-width="1.2"/>
<line x1="565.38" y1="253.0" x2="589.18" y2="253.0" stroke="#000" stroke-width="1.8"/>
<circle cx="573.2" cy="207.9" r="1.0" fill="#00A087" fill-opacity="0.7"/>
<circle cx="578.3" cy="207.5" r="1.0" fill="#00A087" fill-opacity="0.7"/>
<circle cx="581.1" cy="223.7" r="1.0" fill="#00A087" fill-opacity="0.7"/>
<circle cx="572.4" cy="237.1" r="1.0" fill="#00A087" fill-opacity="0.7"/>
<circle cx="581.7" cy="237.1" r="1.0" fill="#00A087" fill-opacity="0.7"/>
<circle cx="574.8" cy="242.4" r="1.0" fill="#00A087" fill-opacity="0.7"/>
<circle cx="574.4" cy="246.4" r="1.0" fill="#00A087" fill-opacity="0.7"/>
<circle cx="575.8" cy="247.3" r="1.0" fill="#00A087" fill-opacity="0.7"/>
<circle cx="584.2" cy="250.3" r="1.0" fill="#00A087" fill-opacity="0.7"/>
<circle cx="571.2" cy="259.5" r="1.0" fill="#00A087" fill-opacity="0.7"/>
<circle cx="576.4" cy="259" r="1.0" fill="#00A087" fill-opacity="0.7"/>
<circle cx="574.1" cy="268.2" r="1.0" fill="#00A087" fill-opacity="0.7"/>
<circle cx="582" cy="267" r="1.0" fill="#00A087" fill-opacity="0.7"/>
<circle cx="578.3" cy="275.7" r="1.0" fill="#00A087" fill-opacity="0.7"/>
<circle cx="573.8" cy="295.4" r="1.0" fill="#00A087" fill-opacity="0.7"/>
<circle cx="577.28" cy="250.3" r="2.8" fill="#00A087"/>
<line x1="611.4" y1="247.4" x2="611.4" y2="254.0" stroke="#333" stroke-width="1.15"/>
<line x1="611.4" y1="301.7" x2="611.4" y2="320.0" stroke="#333" stroke-width="1.15"/>
<line x1="611.4" y1="254.0" x2="611.4" y2="301.7" stroke="#3C5488" stroke-width="1.15"/>
<rect x="599.50" y="268.85" width="23.80" height="26.55" fill="#3C5488" fill-opacity="0.35" stroke="#1A1A1A" stroke-width="1.2"/>
<line x1="599.50" y1="279.7" x2="623.30" y2="279.7" stroke="#000" stroke-width="1.8"/>
<circle cx="616.7" cy="246.8" r="1.0" fill="#3C5488" fill-opacity="0.7"/>
<circle cx="604.8" cy="250.4" r="1.0" fill="#3C5488" fill-opacity="0.7"/>
<circle cx="607.8" cy="257.1" r="1.0" fill="#3C5488" fill-opacity="0.7"/>
<circle cx="614.1" cy="254.3" r="1.0" fill="#3C5488" fill-opacity="0.7"/>
<circle cx="612.1" cy="260.2" r="1.0" fill="#3C5488" fill-opacity="0.7"/>
<circle cx="608.2" cy="265.6" r="1.0" fill="#3C5488" fill-opacity="0.7"/>
<circle cx="614.7" cy="265.6" r="1.0" fill="#3C5488" fill-opacity="0.7"/>
<circle cx="611.4" cy="270.1" r="1.0" fill="#3C5488" fill-opacity="0.7"/>
<circle cx="607.4" cy="271.5" r="1.0" fill="#3C5488" fill-opacity="0.7"/>
<circle cx="609.4" cy="273.5" r="1.0" fill="#3C5488" fill-opacity="0.7"/>
<circle cx="608.2" cy="276.8" r="1.0" fill="#3C5488" fill-opacity="0.7"/>
<circle cx="617.3" cy="276.8" r="1.0" fill="#3C5488" fill-opacity="0.7"/>
<circle cx="606.2" cy="282" r="1.0" fill="#3C5488" fill-opacity="0.7"/>
<circle cx="609.4" cy="282.3" r="1.0" fill="#3C5488" fill-opacity="0.7"/>
<circle cx="614.7" cy="282.3" r="1.0" fill="#3C5488" fill-opacity="0.7"/>
<circle cx="614.7" cy="287.9" r="1.0" fill="#3C5488" fill-opacity="0.7"/>
<circle cx="610.2" cy="289.2" r="1.0" fill="#3C5488" fill-opacity="0.7"/>
<circle cx="606.9" cy="292.5" r="1.0" fill="#3C5488" fill-opacity="0.7"/>
<circle cx="615" cy="292.5" r="1.0" fill="#3C5488" fill-opacity="0.7"/>
<circle cx="609.6" cy="298.9" r="1.0" fill="#3C5488" fill-opacity="0.7"/>
<circle cx="610.9" cy="299.9" r="1.0" fill="#3C5488" fill-opacity="0.7"/>
<circle cx="606.6" cy="300.8" r="1.0" fill="#3C5488" fill-opacity="0.7"/>
<circle cx="617.9" cy="301.2" r="1.0" fill="#3C5488" fill-opacity="0.7"/>
<circle cx="615.8" cy="306.2" r="1.0" fill="#3C5488" fill-opacity="0.7"/>
<circle cx="616.5" cy="308" r="1.0" fill="#3C5488" fill-opacity="0.7"/>
<circle cx="612" cy="312.5" r="1.0" fill="#3C5488" fill-opacity="0.7"/>
<circle cx="615.4" cy="311.8" r="1.0" fill="#3C5488" fill-opacity="0.7"/>
<circle cx="607.4" cy="320.3" r="1.0" fill="#3C5488" fill-opacity="0.7"/>
<circle cx="606.2" cy="177.2" r="1.0" fill="#3C5488" fill-opacity="0.7"/>
<circle cx="611.4" cy="228.1" r="1.0" fill="#3C5488" fill-opacity="0.7"/>
<circle cx="611.4" cy="277.9" r="2.8" fill="#3C5488"/>
<line x1="488.9" y1="26.5" x2="631.3" y2="26.5" stroke="#333" stroke-width="1"/>
<line x1="488.9" y1="41.5" x2="631.3" y2="41.5" stroke="#111" stroke-width="1.1"/>
<line x1="488.9" y1="348.5" x2="631.3" y2="348.5" stroke="#333" stroke-width="1"/>
<line x1="488.9" y1="26.0" x2="488.9" y2="349.0" stroke="#333" stroke-width="0.85"/>
<line x1="631.3" y1="26.0" x2="631.3" y2="349.0" stroke="#333" stroke-width="0.9"/>
<line x1="26.7" y1="119.4" x2="29.4" y2="119.4" stroke="#333" stroke-width="1.1"/>
<text transform="translate(12.40,122.83) scale(1.0204,1)" font-family="Liberation Sans, sans-serif" font-weight="normal" font-size="9.80" fill="#222">2.5</text>
<line x1="26.7" y1="211.1" x2="29.4" y2="211.1" stroke="#333" stroke-width="1.1"/>
<text transform="translate(12.40,214.53) scale(1.0204,1)" font-family="Liberation Sans, sans-serif" font-weight="normal" font-size="9.80" fill="#222">2.0</text>
<line x1="26.7" y1="302.8" x2="29.4" y2="302.8" stroke="#333" stroke-width="1.1"/>
<text transform="translate(12.40,306.23) scale(1.0204,1)" font-family="Liberation Sans, sans-serif" font-weight="normal" font-size="9.80" fill="#222">1.5</text>
<line x1="338.8" y1="60.4" x2="341.5" y2="60.4" stroke="#333" stroke-width="1.1"/>
<text transform="translate(332.65,63.83) scale(1.0204,1)" font-family="Liberation Sans, sans-serif" font-weight="normal" font-size="9.80" fill="#222">4</text>
<line x1="338.8" y1="124.4" x2="341.5" y2="124.4" stroke="#333" stroke-width="1.1"/>
<text transform="translate(332.80,127.83) scale(1.0204,1)" font-family="Liberation Sans, sans-serif" font-weight="normal" font-size="9.80" fill="#222">3</text>
<line x1="338.8" y1="188.3" x2="341.5" y2="188.3" stroke="#333" stroke-width="1.1"/>
<text transform="translate(332.85,191.73) scale(1.0204,1)" font-family="Liberation Sans, sans-serif" font-weight="normal" font-size="9.80" fill="#222">2</text>
<line x1="338.8" y1="252.2" x2="341.5" y2="252.2" stroke="#333" stroke-width="1.1"/>
<text transform="translate(332.85,255.63) scale(1.0204,1)" font-family="Liberation Sans, sans-serif" font-weight="normal" font-size="9.80" fill="#222">1</text>
<line x1="338.8" y1="316.2" x2="341.5" y2="316.2" stroke="#333" stroke-width="1.1"/>
<text transform="translate(332.75,319.63) scale(1.0204,1)" font-family="Liberation Sans, sans-serif" font-weight="normal" font-size="9.80" fill="#222">0</text>
<text transform="translate(8.3,241.49) rotate(-90) scale(0.9844,1)" font-family="Liberation Sans, sans-serif" font-size="10.0" fill="#000">Motor precision (a.u.)</text>
<text transform="translate(328.4,241.48) rotate(-90) scale(0.9757,1)" font-family="Liberation Sans, sans-serif" font-size="10.0" fill="#000">Motor variability (a.u.)</text>
<text transform="translate(641.21,166.10) scale(1.0292,1)" font-family="Liberation Sans, sans-serif" font-weight="normal" font-size="9.50" fill="#000">Group</text>
<line x1="648.5" y1="173.70" x2="648.5" y2="185.50" stroke="#E64B35" stroke-width="1.15"/>
<rect x="643.4" y="176.10" width="10.0" height="7.0" fill="#E64B35" fill-opacity="0.35" stroke="#1A1A1A" stroke-width="0.95"/>
<line x1="643.4" y1="179.6" x2="653.4" y2="179.6" stroke="#000" stroke-width="1.15"/>
<circle cx="648.5" cy="179.6" r="2.6" fill="#E64B35"/>
<text x="659.95" y="182.35" font-family="Liberation Sans, sans-serif" font-size="7.85" fill="#000">8-10y</text>
<line x1="648.5" y1="187.73" x2="648.5" y2="199.53" stroke="#4DBBD5" stroke-width="1.15"/>
<rect x="643.4" y="190.13" width="10.0" height="7.0" fill="#4DBBD5" fill-opacity="0.35" stroke="#1A1A1A" stroke-width="0.95"/>
<line x1="643.4" y1="193.63" x2="653.4" y2="193.63" stroke="#000" stroke-width="1.15"/>
<circle cx="648.5" cy="193.63" r="2.6" fill="#4DBBD5"/>
<text x="659.71" y="196.38" font-family="Liberation Sans, sans-serif" font-size="7.85" fill="#000">12-14y</text>
<line x1="648.5" y1="201.76" x2="648.5" y2="213.56" stroke="#00A087" stroke-width="1.15"/>
<rect x="643.4" y="204.16" width="10.0" height="7.0" fill="#00A087" fill-opacity="0.35" stroke="#1A1A1A" stroke-width="0.95"/>
<line x1="643.4" y1="207.66" x2="653.4" y2="207.66" stroke="#000" stroke-width="1.15"/>
<circle cx="648.5" cy="207.66" r="2.6" fill="#00A087"/>
<text x="659.71" y="210.41" font-family="Liberation Sans, sans-serif" font-size="7.85" fill="#000">16-18y</text>
<line x1="648.5" y1="215.79" x2="648.5" y2="227.59" stroke="#3C5488" stroke-width="1.15"/>
<rect x="643.4" y="218.19" width="10.0" height="7.0" fill="#3C5488" fill-opacity="0.35" stroke="#1A1A1A" stroke-width="0.95"/>
<line x1="643.4" y1="221.69" x2="653.4" y2="221.69" stroke="#000" stroke-width="1.15"/>
<circle cx="648.5" cy="221.69" r="2.6" fill="#3C5488"/>
<text x="659.91" y="224.44" font-family="Liberation Sans, sans-serif" font-size="7.85" fill="#000">20-30y</text>
</svg>
</body></html>
